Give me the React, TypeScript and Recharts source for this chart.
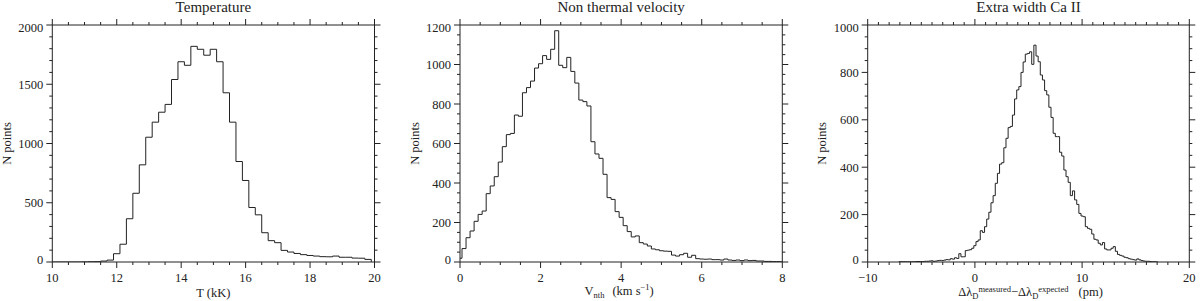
import React from "react";
import { LineChart, Line, XAxis, YAxis } from "recharts";

const INK = "#222";
const FONT = "'Liberation Serif', 'Times New Roman', serif";

// Temperature (kK): 0.2 kK bins centred on 10.0 ... 19.8
const TEMP_START = 10.0;
const TEMP_BIN = 0.2;
const TEMP_COUNTS = [
  0, 0, 0, 0, 0, 1, 2, 3, 8, 16,
  70, 150, 365, 580, 820, 1053, 1180, 1264, 1330, 1540,
  1690, 1660, 1820, 1795, 1745, 1795, 1690, 1428, 1180, 848,
  688, 460, 398, 247, 180, 163, 98, 84, 72, 62,
  55, 50, 45, 44, 50, 40, 40, 33, 32, 22,
];
const TEMP_X_MAJOR = [10, 12, 14, 16, 18, 20];
const TEMP_Y_MAJOR = [0, 500, 1000, 1500, 2000];

// Non thermal velocity (km/s): 0.1 bins centred on 0.0 ... 8.0
const VNT_START = 0.0;
const VNT_BIN = 0.1;
const VNT_COUNTS = [
  19, 68, 123, 157, 206, 241, 258, 346, 385, 432,
  506, 584, 645, 651, 744, 738, 857, 883, 916, 982,
  1004, 1045, 1026, 1077, 1171, 996, 984, 1036, 965, 906,
  820, 812, 790, 609, 547, 525, 444, 326, 317, 255,
  226, 184, 154, 127, 132, 98, 91, 81, 66, 62,
  57, 55, 54, 35, 30, 37, 44, 24, 34, 17,
  15, 14, 15, 12, 12, 10, 15, 10, 8, 10,
  7, 10, 7, 8, 5, 5, 3, 3, 2, 2,
  1,
];
const VNT_X_MAJOR = [0, 2, 4, 6, 8];
const VNT_Y_MAJOR = [0, 200, 400, 600, 800, 1000, 1200];

// Extra width Ca II (pm): 0.2 pm bins centred on -7.0 ... 17.0
const CA_START = -7.0;
const CA_BIN = 0.2;
const CA_COUNTS = [
  1, 1, 1, 1, 1, 1, 1, 1, 2, 2,
  2, 2, 3, 3, 4, 5, 3, 4, 6, 7,
  6, 8, 10, 9, 14, 12, 18, 15, 35, 22,
  22, 48, 50, 52, 58, 69, 86, 93, 132, 125,
  149, 181, 210, 250, 280, 332, 374, 413, 419, 482,
  522, 567, 572, 620, 688, 726, 740, 800, 844, 877,
  880, 887, 834, 915, 869, 845, 789, 768, 723, 705,
  653, 610, 543, 529, 529, 463, 447, 388, 360, 336,
  280, 300, 262, 243, 205, 194, 191, 149, 142, 138,
  118, 96, 93, 79, 72, 82, 55, 51, 51, 58,
  65, 45, 32, 28, 25, 20, 18, 14, 12, 10,
  8, 13, 9, 6, 4, 3, 3, 2, 1, 1,
  0,
];
const CA_X_MAJOR = [-10, 0, 10, 20];
const CA_Y_MAJOR = [0, 200, 400, 600, 800, 1000];

// histogram drawn as steps: each bin starts at its left edge
function steps(start: number, bin: number, counts: number[], lo: number, hi: number) {
  const pts = counts.map((n, i) => ({ x: Math.max(lo, start + i * bin - bin / 2), y: n }));
  pts.push({ x: Math.min(hi, start + (counts.length - 1) * bin + bin / 2), y: 0 });
  return pts;
}

function allTicks(majors: number[], step: number) {
  const lo = majors[0];
  const hi = majors[majors.length - 1];
  const n = Math.round((hi - lo) / step);
  const out: number[] = [];
  for (let i = 0; i <= n; i++) out.push(Math.round((lo + i * step) * 1e6) / 1e6);
  return out;
}

const fmt = (v: number) => (v < 0 ? "\u2212" + Math.abs(v) : String(v));

const textStyle = {
  fontSize: 12.5,
  fill: INK,
  style: { fontFamily: FONT },
};

function makeTick(side: "bottom" | "top" | "left" | "right", majors: number[]) {
  const lo = majors[0];
  const hi = majors[majors.length - 1];
  return (p: any) => {
    const { x, y, payload } = p;
    const v = payload.value as number;
    const big = majors.some((m) => Math.abs(m - v) < 1e-6);
    const len = big ? 6 : 3;
    if (side === "bottom") {
      return (
        <g>
          <line x1={x} y1={y} x2={x} y2={y + len} stroke={INK} />
          {big && (
            <text x={x} y={y + 19.5} textAnchor="middle" {...textStyle}>
              {fmt(v)}
            </text>
          )}
        </g>
      );
    }
    if (side === "top") return <line x1={x} y1={y} x2={x} y2={y - len} stroke={INK} />;
    if (side === "right") return <line x1={x} y1={y} x2={x + len} y2={y} stroke={INK} />;
    const shift = v === hi ? 2 : v === lo ? -2.5 : 0;
    return (
      <g>
        <line x1={x} y1={y} x2={x - len} y2={y} stroke={INK} />
        {big && (
          <text x={x - 9} y={y + 4.5 + shift} textAnchor="end" {...textStyle}>
            {fmt(v)}
          </text>
        )}
      </g>
    );
  };
}

type PanelProps = {
  title: string;
  data: { x: number; y: number }[];
  xDom: [number, number];
  yDom: [number, number];
  xMajor: number[];
  xStep: number;
  yMajor: number[];
  yStep: number;
  plotLeft: number;
  plotRight: number;
  xTitle: (vb: any) => React.ReactNode;
};

const PLOT_TOP = 25;
const PLOT_BOTTOM = 262;

function Panel(pp: PanelProps) {
  const xTicks = allTicks(pp.xMajor, pp.xStep);
  const yTicks = allTicks(pp.yMajor, pp.yStep);
  const common = {
    type: "number" as const,
    interval: 0 as const,
    tickSize: 0,
    tickMargin: 0,
    tickLine: false,
    axisLine: { stroke: INK },
    allowDataOverflow: true,
  };
  return (
    <LineChart width={400} height={301} data={pp.data} margin={{ top: 0, right: 0, bottom: 0, left: 0 }}>
      <XAxis
        {...common}
        xAxisId="b"
        dataKey="x"
        domain={pp.xDom}
        ticks={xTicks}
        height={301 - PLOT_BOTTOM}
        tick={makeTick("bottom", pp.xMajor)}
        label={(p: any) => pp.xTitle(p.viewBox)}
      />
      <XAxis
        {...common}
        xAxisId="t"
        dataKey="x"
        orientation="top"
        domain={pp.xDom}
        ticks={xTicks}
        height={PLOT_TOP}
        tick={makeTick("top", pp.xMajor)}
        label={(p: any) => (
          <text
            x={p.viewBox.x + p.viewBox.width / 2}
            y={12}
            textAnchor="middle"
            fontSize={15}
            fill={INK}
            style={{ fontFamily: FONT }}
          >
            {pp.title}
          </text>
        )}
      />
      <YAxis
        {...common}
        yAxisId="l"
        dataKey="y"
        domain={pp.yDom}
        ticks={yTicks}
        width={pp.plotLeft}
        tick={makeTick("left", pp.yMajor)}
        label={(p: any) => {
          const cx = pp.plotLeft - 46 + 4.5;
          const cy = (PLOT_TOP + PLOT_BOTTOM) / 2;
          return (
            <text x={cx} y={cy} textAnchor="middle" transform={`rotate(-90 ${cx} ${cy})`} {...textStyle}>
              N points
            </text>
          );
        }}
      />
      <YAxis
        {...common}
        yAxisId="r"
        dataKey="y"
        orientation="right"
        domain={pp.yDom}
        ticks={yTicks}
        width={400 - pp.plotRight}
        tick={makeTick("right", pp.yMajor)}
      />
      <Line
        xAxisId="b"
        yAxisId="l"
        type="stepAfter"
        dataKey="y"
        dot={false}
        activeDot={false}
        stroke={INK}
        strokeWidth={1}
        isAnimationActive={false}
      />
      {/* same histogram on the mirrored axes, not drawn: keeps their scales */}
      <Line
        xAxisId="t"
        yAxisId="r"
        type="stepAfter"
        dataKey="y"
        dot={false}
        activeDot={false}
        stroke="none"
        isAnimationActive={false}
      />
    </LineChart>
  );
}

export default function App() {
  return (
    <div style={{ width: 1200, height: 301, display: "flex", background: "#fff", fontFamily: FONT }}>
      <style>{"body{margin:0}"}</style>
      <Panel
        title="Temperature"
        data={steps(TEMP_START, TEMP_BIN, TEMP_COUNTS, 10, 20)}
        xDom={[10, 20]}
        yDom={[0, 2000]}
        xMajor={TEMP_X_MAJOR}
        xStep={0.5}
        yMajor={TEMP_Y_MAJOR}
        yStep={100}
        plotLeft={52.3}
        plotRight={374.5}
        xTitle={(vb) => (
          <text x={vb.x + vb.width / 2} y={296.5} textAnchor="middle" {...textStyle}>
            T (kK)
          </text>
        )}
      />
      <Panel
        title="Non thermal velocity"
        data={steps(VNT_START, VNT_BIN, VNT_COUNTS, 0, 8)}
        xDom={[0, 8]}
        yDom={[0, 1200]}
        xMajor={VNT_X_MAJOR}
        xStep={0.5}
        yMajor={VNT_Y_MAJOR}
        yStep={50}
        plotLeft={60}
        plotRight={382.3}
        xTitle={(vb) => (
          <text x={vb.x + vb.width / 2 - 2} y={295} textAnchor="middle" {...textStyle}>
            V<tspan fontSize={8.5} dy={2.5}>nth</tspan>
            <tspan dx={8} dy={-2.5}>(km s</tspan>
            <tspan fontSize={8.5} dy={-5}>{"\u22121"}</tspan>
            <tspan dy={5}>)</tspan>
          </text>
        )}
      />
      <Panel
        title="Extra width Ca II"
        data={steps(CA_START, CA_BIN, CA_COUNTS, -10, 20)}
        xDom={[-10, 20]}
        yDom={[0, 1000]}
        xMajor={CA_X_MAJOR}
        xStep={1}
        yMajor={CA_Y_MAJOR}
        yStep={50}
        plotLeft={67.7}
        plotRight={389.3}
        xTitle={(vb) => (
          <text x={vb.x + vb.width / 2 + 2} y={296} textAnchor="middle" {...textStyle}>
            {"\u0394\u03bb"}
            <tspan fontSize={8.5} dy={2.5}>D</tspan>
            <tspan fontSize={8.5} dy={-7}>measured</tspan>
            <tspan dy={4.5}>{"\u2212\u0394\u03bb"}</tspan>
            <tspan fontSize={8.5} dy={2.5}>D</tspan>
            <tspan fontSize={8.5} dy={-7}>expected</tspan>
            <tspan dx={10} dy={4.5}>(pm)</tspan>
          </text>
        )}
      />
    </div>
  );
}
